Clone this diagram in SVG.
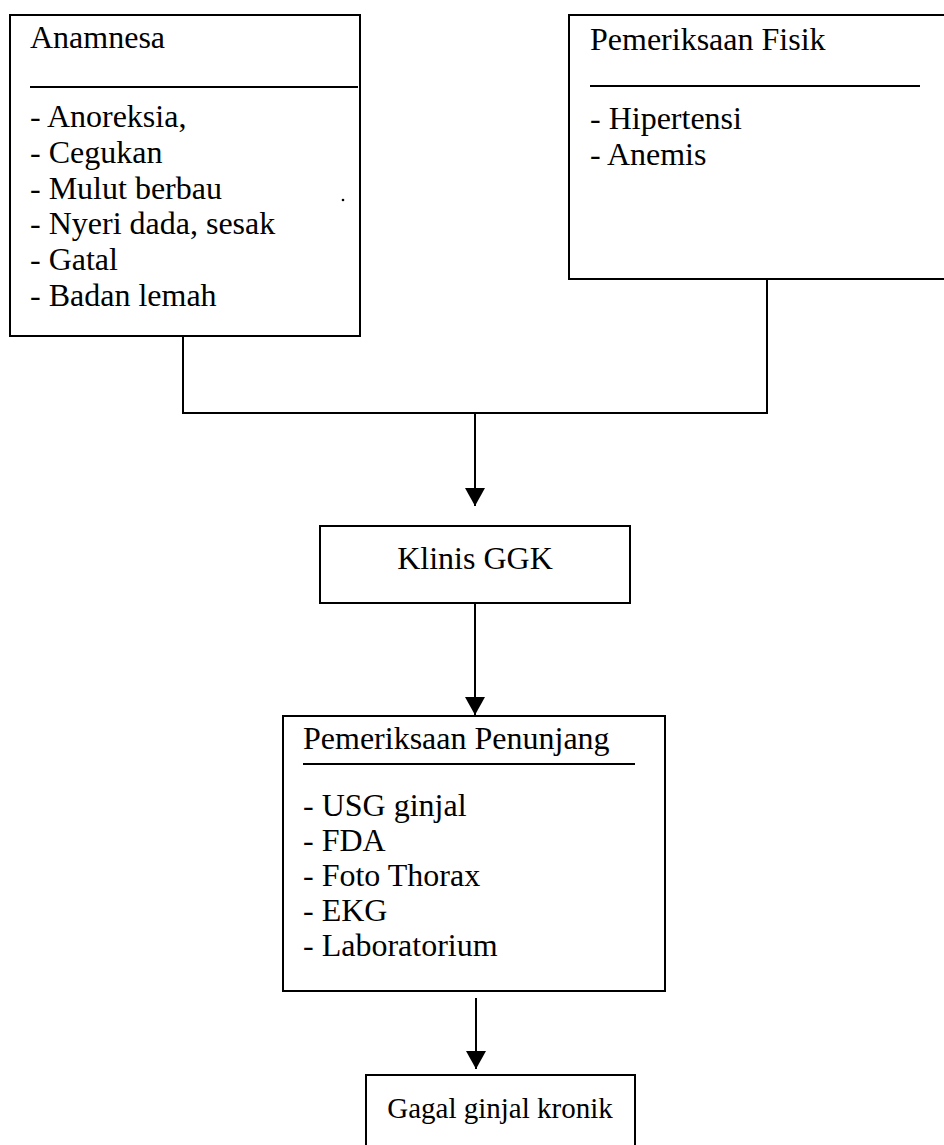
<svg xmlns="http://www.w3.org/2000/svg" width="944" height="1145" viewBox="0 0 944 1145">
<style>
.box{fill:#fff;stroke:#000;stroke-width:2}
.rule{stroke:#000;stroke-width:2}
.t{font-family:"Liberation Serif","Times New Roman",serif;font-size:32px;fill:#000}
.c{text-anchor:middle}
.s{font-size:29px}
.conn{fill:none;stroke:#000;stroke-width:2}
</style>
<defs>
<marker id="ah" markerWidth="18" markerHeight="20" refX="18" refY="10" orient="auto" markerUnits="userSpaceOnUse" viewBox="0 0 18 20">
<path d="M0,0 L18,10 L0,20 Z" fill="#000"/>
</marker>
</defs>
<rect width="944" height="1145" fill="#fff"/>
<g id="connectors">
<path class="conn" d="M183,336 V413 H767 V279"/>
<path class="conn" d="M475,413 V506" marker-end="url(#ah)"/>
<path class="conn" d="M475,603 V715" marker-end="url(#ah)"/>
<path class="conn" d="M476,998 V1069" marker-end="url(#ah)"/>
</g>
<g id="anamnesa">
<rect class="box" x="10" y="15" width="350" height="321"/>
<text class="t" x="30" y="48">Anamnesa</text>
<line class="rule" x1="30" y1="87" x2="358" y2="87"/>
<text class="t" x="30" y="127">- Anoreksia,</text>
<text class="t" x="30" y="163">- Cegukan</text>
<text class="t" x="30" y="199">- Mulut berbau</text>
<text class="t" x="30" y="234">- Nyeri dada, sesak</text>
<text class="t" x="30" y="270">- Gatal</text>
<text class="t" x="30" y="306">- Badan lemah</text>
<circle cx="343" cy="200" r="1.3" fill="#000"/>
</g>
<g id="fisik">
<rect class="box" x="569" y="15" width="390" height="264"/>
<text class="t" x="590" y="50">Pemeriksaan Fisik</text>
<line class="rule" x1="590" y1="86" x2="920" y2="86"/>
<text class="t" x="590" y="129">- Hipertensi</text>
<text class="t" x="590" y="165">- Anemis</text>
</g>
<g id="klinis">
<rect class="box" x="320" y="526" width="310" height="77"/>
<text class="t c" x="475" y="569">Klinis GGK</text>
</g>
<g id="penunjang">
<rect class="box" x="283" y="716" width="382" height="275"/>
<text class="t" x="303" y="749">Pemeriksaan Penunjang</text>
<line class="rule" x1="303" y1="764" x2="635" y2="764"/>
<text class="t" x="303" y="816">- USG ginjal</text>
<text class="t" x="303" y="851">- FDA</text>
<text class="t" x="303" y="886">- Foto Thorax</text>
<text class="t" x="303" y="921">- EKG</text>
<text class="t" x="303" y="956">- Laboratorium</text>
</g>
<g id="gagal">
<rect class="box" x="366" y="1075" width="269" height="90"/>
<text class="t c s" x="500" y="1118">Gagal ginjal kronik</text>
</g>
</svg>
